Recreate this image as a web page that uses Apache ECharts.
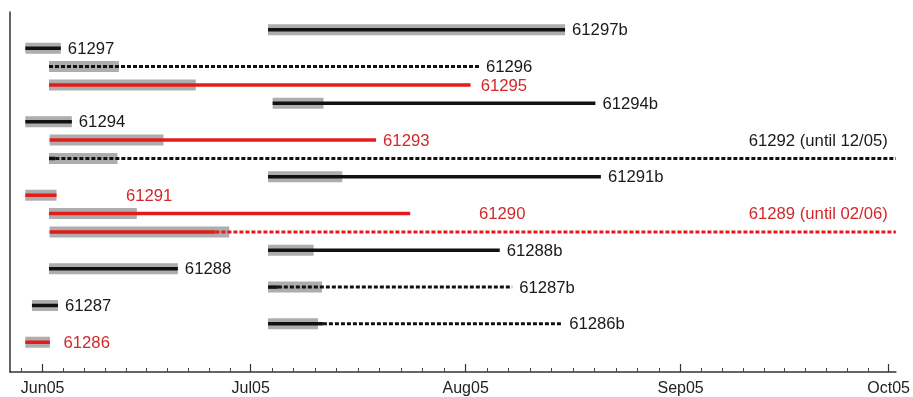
<!DOCTYPE html>
<html>
<head>
<meta charset="utf-8">
<script src="https://cdn.jsdelivr.net/npm/echarts@6/dist/echarts.min.js"></script>
<style>
html,body{margin:0;padding:0;background:#fff;}
#chart{width:913px;height:397px;}
</style>
</head>
<body>
<div id="chart"></div>
<script>
// Rows, top to bottom
const rowNames = ['61297b','61297','61296','61295','61294b','61294','61293','61292','61291b','61291','61290','61289','61288b','61288','61287b','61287','61286b','61286'];
const labelTexts = ['61297b','61297','61296','61295','61294b','61294','61293','61292 (until 12/05)','61291b','61291','61290','61289 (until 02/06)','61288b','61288','61287b','61287','61286b','61286'];
// grey block start / end
const barStart = ['2005-07-03 12:00','2005-05-29 12:00','2005-06-01 22:00','2005-06-01 22:00','2005-07-04 04:00','2005-05-29 12:00','2005-06-02 00:00','2005-06-01 22:00','2005-07-03 12:00','2005-05-29 12:00','2005-06-01 22:00','2005-06-02 00:00','2005-07-03 12:00','2005-06-01 22:00','2005-07-03 12:00','2005-05-30 11:00','2005-07-03 12:00','2005-05-29 12:00'];
const barEnd = ['2005-08-15 08:00','2005-06-03 15:00','2005-06-12 00:00','2005-06-23 02:00','2005-07-11 12:00','2005-06-05 05:00','2005-06-18 10:00','2005-06-11 19:00','2005-07-14 05:00','2005-06-03 00:00','2005-06-14 14:00','2005-06-27 22:00','2005-07-10 02:00','2005-06-20 12:00','2005-07-11 07:00','2005-06-03 05:00','2005-07-10 17:00','2005-06-02 01:00'];
// solid part of the line ends here, dotted part continues to lineEnd
const solidEnd = ['2005-08-15 08:00','2005-06-03 15:00','2005-06-01 22:00','2005-08-01 17:00','2005-08-19 17:00','2005-06-05 05:00','2005-07-19 02:00','2005-06-02 20:00','2005-08-20 12:00','2005-06-03 00:00','2005-07-24 00:00','2005-06-25 22:00','2005-08-05 22:00','2005-06-20 12:00','2005-07-04 22:00','2005-06-03 05:00','2005-07-11 10:00','2005-06-02 01:00'];
const lineEnd = ['2005-08-15 08:00','2005-06-03 15:00','2005-08-02 22:00','2005-08-01 17:00','2005-08-19 17:00','2005-06-05 05:00','2005-07-19 02:00','2005-12-05 00:00','2005-08-20 12:00','2005-06-03 00:00','2005-07-24 00:00','2006-02-06 00:00','2005-08-05 22:00','2005-06-20 12:00','2005-08-07 17:00','2005-06-03 05:00','2005-08-14 22:00','2005-06-02 01:00'];
const lineColor = ['k','k','k','r','k','k','r','k','k','r','r','r','k','k','k','k','k','r'];
// label anchor: null = after line end, 'right' = right edge on row above, or a date
const labelAt = [null,null,null,'2005-08-02 04:00',null,null,null,'right',null,'2005-06-12 00:00','2005-08-01 22:00','right',null,null,null,null,null,'2005-06-03 00:00'];
const axisMin = '2005-05-27 07:00';
const axisMax = '2005-10-02 01:00';
const minorMonths = ['2005-05-01','2005-06-01','2005-07-01','2005-08-01','2005-09-01','2005-10-01','2005-11-01'];
const minorSplit = 10;
const monthNames = ['Jan','Feb','Mar','Apr','May','Jun','Jul','Aug','Sep','Oct','Nov','Dec'];

function ts(s){ return new Date(s.indexOf(' ')>0 ? s.replace(' ','T') : s + 'T00:00').getTime(); }

const COLORS = {k:{line:'#111111', text:'#1a1a1a'}, r:{line:'#e31b1b', text:'#d3282b'}};
const FONT = '16.7px Arial, "Liberation Sans", sans-serif';

const N = rowNames.length;
const data = rowNames.map((n,i)=>[N - i, ts(barStart[i]), ts(barEnd[i]), ts(solidEnd[i]), ts(lineEnd[i]), i]);

const minorVals = [];
for (let m = 0; m < minorMonths.length - 1; m++) {
  const a = ts(minorMonths[m]), b = ts(minorMonths[m+1]);
  for (let k = 1; k < minorSplit; k++) {
    const v = a + (b - a) * k / minorSplit;
    if (v >= ts(axisMin) && v <= ts(axisMax)) minorVals.push(v);
  }
}

function renderItem(params, api){
  const i = api.value(5);
  const row = api.value(0);
  const cs = params.coordSys;
  const right = cs.x + cs.width;
  const clampX = x => Math.min(x, right);
  const p0 = api.coord([api.value(1), row]);
  const pg = api.coord([api.value(2), row]);
  const ps = api.coord([api.value(3), row]);
  const pe = api.coord([api.value(4), row]);
  const y = p0[1];
  const col = COLORS[lineColor[i]];
  const children = [];
  children.push({type:'rect', shape:{x:p0[0], y:y-5.5, width:clampX(pg[0])-p0[0], height:11}, style:{fill:'#adadad'}});
  const xs = clampX(ps[0]), xe = clampX(pe[0]);
  if (xs > p0[0] + 0.1) {
    children.push({type:'line', shape:{x1:p0[0], y1:y, x2:xs, y2:y}, style:{stroke:col.line, lineWidth:3.5}});
  }
  if (xe > xs + 0.1) {
    children.push({type:'line', shape:{x1:xs, y1:y, x2:xe, y2:y}, style:{stroke:col.line, lineWidth:3, lineDash:[4,2]}});
  }
  let tx, ty = y + 1, align = 'left';
  if (labelAt[i] === 'right') {
    tx = right - 8;
    ty = api.coord([api.value(1), row + 1])[1] + 1;
    align = 'right';
  } else if (labelAt[i]) {
    tx = api.coord([ts(labelAt[i]), row])[0] + 7;
  } else {
    tx = xe + 7;
  }
  children.push({type:'text', x:tx, y:ty, style:{text:labelTexts[i], fill:col.text, font:FONT, align:align, textAlign:align, verticalAlign:'middle', textVerticalAlign:'middle'}});
  return {type:'group', children};
}

const chart = echarts.init(document.getElementById('chart'), null, {renderer:'canvas'});
chart.setOption({
  animation:false,
  backgroundColor:'#ffffff',
  grid:{left:10, right:15, top:12, bottom:22, containLabel:false},
  xAxis:[{
    type:'time',
    position:'bottom',
    min: ts(axisMin),
    max: ts(axisMax),
    minInterval: 28*864e5,
    maxInterval: 31*864e5,
    axisLine:{show:true, onZero:false, lineStyle:{color:'#333', width:1.5}},
    axisTick:{show:true, inside:true, length:8, lineStyle:{color:'#333', width:1.2}},
    splitLine:{show:false},
    axisLabel:{
      fontSize:16, color:'#222', margin:9, fontFamily:'Arial, "Liberation Sans", sans-serif',
      showMinLabel:false, showMaxLabel:false, hideOverlap:false,
      formatter: function(v){ const d = new Date(v); return monthNames[d.getMonth()] + String(d.getFullYear()).slice(2); }
    }
  },{
    type:'value',
    position:'bottom',
    min: ts(axisMin),
    max: ts(axisMax),
    axisLine:{show:false, onZero:false},
    axisTick:{show:true, inside:true, length:4, customValues: minorVals, lineStyle:{color:'#444', width:1}},
    axisLabel:{show:false},
    splitLine:{show:false}
  }],
  yAxis:{
    type:'value', min:-0.62, max:18.97,
    axisLine:{show:true, onZero:false, lineStyle:{color:'#333', width:1.5}},
    axisTick:{show:false}, axisLabel:{show:false}, splitLine:{show:false}
  },
  series:[{
    type:'custom',
    renderItem: renderItem,
    xAxisIndex:0,
    encode:{x:[1,2,3,4], y:0},
    data: data
  }]
});
</script>
</body>
</html>
